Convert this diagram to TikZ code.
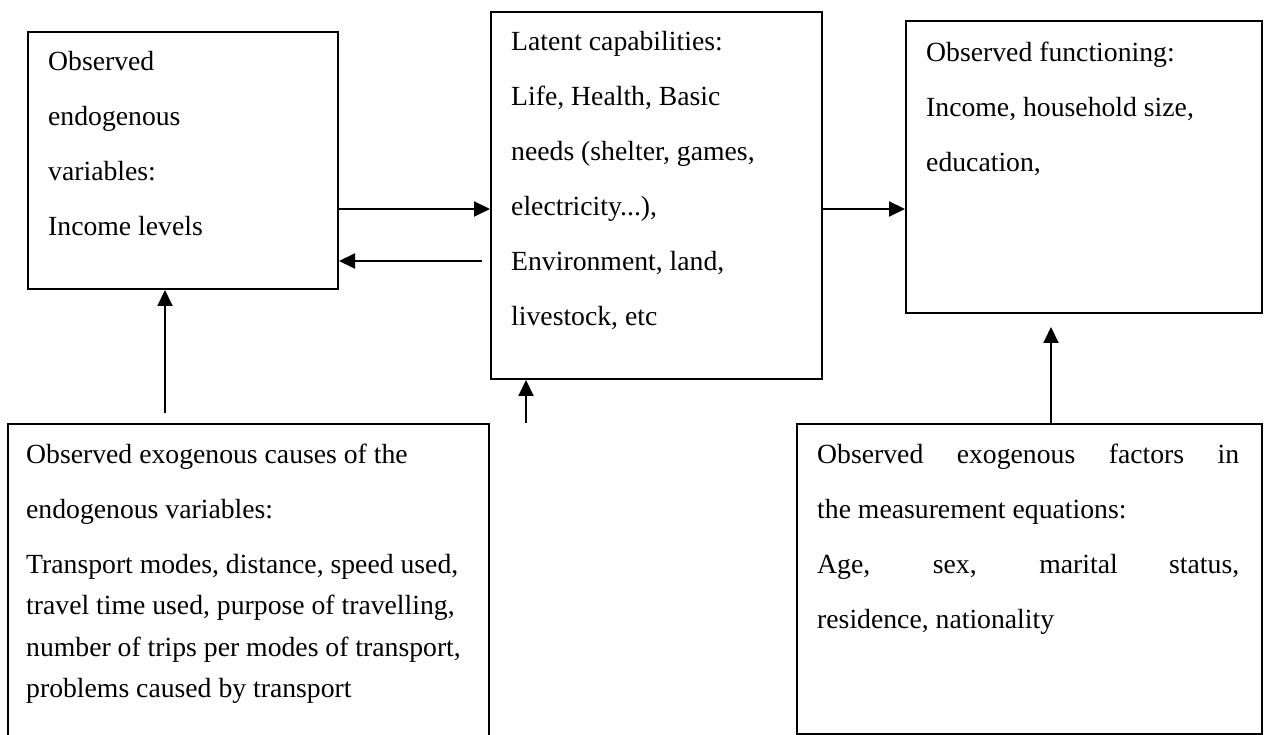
\documentclass[tikz,border=0pt]{standalone}
\usepackage{fontspec}
\setmainfont{Liberation Serif}
\usetikzlibrary{arrows.meta}

\newcommand{\justline}[1]{\makebox[422pt][s]{#1}}

\begin{document}
\begin{tikzpicture}[x=1pt, y=-1pt,
    box/.style={draw, line width=2pt, inner sep=0pt, anchor=north west},
    boxtext/.style={anchor=north west, inner sep=0pt, align=left,
      font=\fontsize{27.7}{55}\selectfont, execute at begin node=\strut},
    arr/.style={line width=2pt, -{Triangle[length=16pt, width=15pt]}}]
    \useasboundingbox (0,0) rectangle (1267,735);

    % boxes
    \node[box, minimum width=310, minimum height=257] (endo) at (27,31) {};
    \node[box, minimum width=331, minimum height=367] (latent) at (490,11) {};
    \node[box, minimum width=356, minimum height=292] (func) at (905,20) {};
    \node[box, minimum width=481, minimum height=330] (causes) at (7,423) {};
    \node[box, minimum width=465, minimum height=310] (factors) at (796,423) {};

    % texts, first baseline about 39 below the box top
    \node[boxtext] (endotext) at ([shift={(21,20.5)}]endo.north west)
      {Observed\\ endogenous\\ variables:\\ Income levels};
    \node[boxtext] (latenttext) at ([shift={(21,20.5)}]latent.north west)
      {Latent capabilities:\\ Life, Health, Basic\\ needs (shelter, games,\\
       electricity...),\\ Environment, land,\\ livestock, etc};
    \node[boxtext] (functext) at ([shift={(21,21.5)}]func.north west)
      {Observed functioning:\\ Income, household size,\\ education,};
    \node[boxtext] (causestext) at ([shift={(19,20.5)}]causes.north west)
      {Observed exogenous causes of the\\ endogenous variables:\\
       Transport modes, distance, speed used,\\[-13.5pt]
       travel time used, purpose of travelling,\\[-13.5pt]
       number of trips per modes of transport,\\[-13.5pt]
       problems caused by transport};
    \node[boxtext] (factorstext) at ([shift={(21,20.5)}]factors.north west)
      {\justline{Observed exogenous factors in}\\ the measurement equations:\\
       \justline{Age, sex, marital status,}\\ residence, nationality};

    % connectors
    \coordinate (upper) at (0,209);
    \coordinate (lower) at (482,261);
    \coordinate (leftfoot) at (165,413);
    \coordinate (midfoot) at (526,0);
    \coordinate (rightgap) at (1051,327);
    \draw[arr] (endo.east |- upper) -- (latent.west |- upper);
    \draw[arr] (lower) -- (endo.east |- lower);
    \draw[arr] (latent.east |- upper) -- (func.west |- upper);
    \draw[arr] (leftfoot) -- (endo.south -| leftfoot);
    \draw[arr] (causes.north -| midfoot) -- (latent.south -| midfoot);
    \draw[arr] (factors.north -| rightgap) -- (rightgap);
\end{tikzpicture}
\end{document}
